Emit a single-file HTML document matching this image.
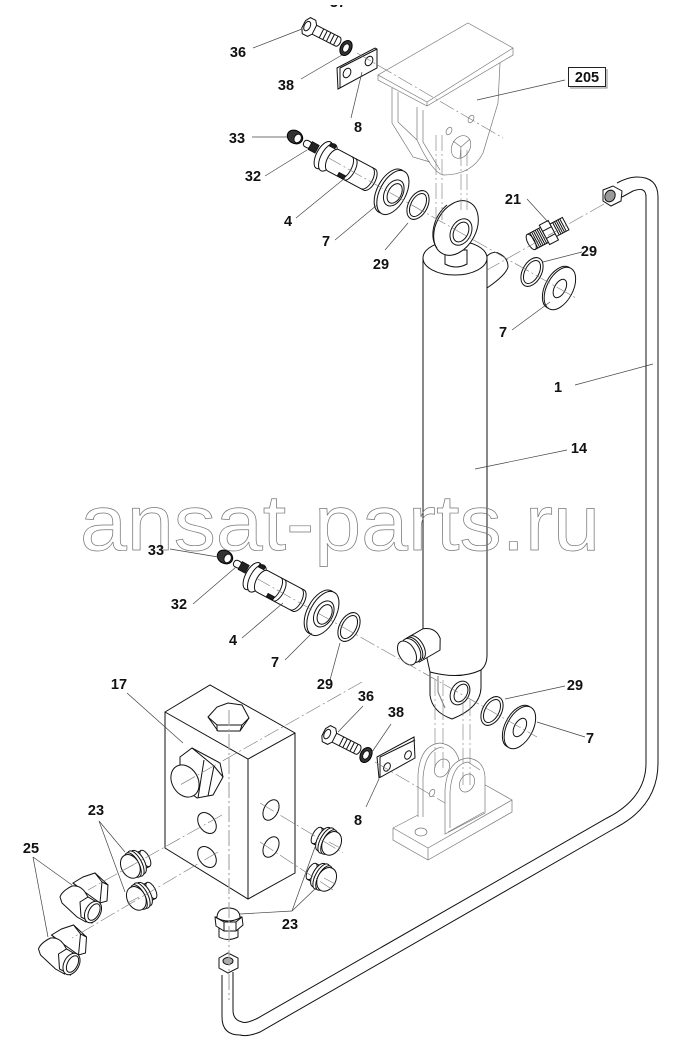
<!DOCTYPE html>
<html><head><meta charset="utf-8"><style>
html,body{margin:0;padding:0;background:#fff}
svg{display:block}
.p,.p *{fill:#fff;stroke:#111;stroke-width:1}
.d,.d *{fill:#333;stroke:#000;stroke-width:1}
.n,.p .n,.n *{fill:none}
.k,.p .k{fill:#222}
.g,.g *{fill:none;stroke:#777;stroke-width:.7}
.c line,.c path{stroke:#777;stroke-width:.6;stroke-dasharray:16 3 2 3;fill:none}
.l line{stroke:#444;stroke-width:.7}
.t text{font:bold 14.5px "Liberation Sans",sans-serif;fill:#111;text-anchor:middle}
.w{font:79px "Liberation Sans",sans-serif;fill:none;stroke:#777;stroke-width:.7}
</style></head><body>
<svg width="679" height="1051" viewBox="0 0 679 1051" xmlns="http://www.w3.org/2000/svg">
<defs>
<g id="pin"><g class="p">
<ellipse cx="-4" cy="0" rx="7" ry="15"/>
<ellipse cx="1" cy="0" rx="7" ry="15"/>
<path d="M7,-12 H48 A6,12 0 0 1 48,12 H7 A6,12 0 0 1 7,-12 Z"/>
<path d="M45,-12 A6,12 0 0 1 45,12" class="n"/>
<path d="M22,-12 A5,12 0 0 1 22,12" class="n"/>
<path d="M26,-12 A5,12 0 0 1 26,12" class="n"/>
<rect x="18" y="8" width="7" height="3.5" class="k"/>
<rect x="-3" y="-14" width="6" height="3" class="k"/>
</g></g>
<g id="coll"><g class="p">
<ellipse cx="-2" cy="0" rx="13" ry="24"/>
<ellipse cx="1" cy="0" rx="13" ry="24"/>
<ellipse cx="2" cy="0" rx="9" ry="14"/>
<ellipse cx="3" cy="0" rx="6.5" ry="10.5"/>
</g></g>
<g id="ring"><g class="p">
<ellipse rx="9.5" ry="15.5"/>
<ellipse rx="7" ry="12.5"/>
</g></g>
<g id="flat"><g class="p">
<ellipse cx="-1" rx="13" ry="23"/>
<ellipse cx="1" rx="13" ry="23"/>
<ellipse cx="1" rx="5.5" ry="10"/>
</g></g>
<g id="bolt"><g class="p">
<path d="M0,-5 L32,-5 A3,5 0 0 1 32,5 L0,5 Z"/>
<path d="M-6,-4 L-3,-9 L3,-9 L6,-5 V5 L3,9 L-3,9 L-6,4 Z"/>
<ellipse cx="-2" cy="0" rx="3" ry="5" class="n"/>
<path d="M14,-5 v10 M18,-5 v10 M22,-5 v10 M26,-5 v10 M30,-5 v10" class="n"/>
</g></g>
<g id="wsh"><ellipse class="d" rx="5.5" ry="8"/><ellipse class="p" rx="3" ry="4.5"/></g>
<g id="nut"><ellipse class="d" rx="8" ry="6.5"/><ellipse class="p" cx="3" rx="3.5" ry="4.5"/></g>
<g id="stud"><g class="p"><rect x="-8" y="-3.5" width="8" height="7" rx="3"/></g><rect x="-1" y="-4.5" width="8" height="9" fill="#222" stroke="#000" stroke-width=".6"/></g>
<g id="plug"><g class="p">
<path d="M-14,-9 H-6 V9 H-14 Z"/>
<ellipse cx="-14" rx="4" ry="9"/>
<ellipse cx="-6" rx="6" ry="13"/>
<ellipse cx="-3" rx="6" ry="14"/>
<ellipse cx="0" rx="6" ry="13.5"/>
<ellipse cx="3" rx="9" ry="12.5"/>
<line x1="0" y1="0" x2="13" y2="0" style="stroke:#777;stroke-width:.6"/>
</g></g>
<g id="elb"><g class="p">
<path d="M73,883 L83,877 L95,873 L108,885 L107,901 L100,903 L82,890 Z"/>
<path d="M73,883 L82,890 M95,873 L102,882 L108,885 M102,882 L100,903" class="n"/>
<path d="M60,897 Q62,891 72,886 Q80,885 85,892 L91,902 L86,922 L77,917 L62,903 Z"/>
<path d="M80,902 L88,897 L100,904 L92,923 L81,917 Z"/>
<ellipse cx="93" cy="912" rx="7.5" ry="11.5" transform="rotate(28 93 912)"/>
<ellipse cx="94" cy="912" rx="5" ry="9" transform="rotate(28 94 912)" class="n"/>
</g></g>
</defs>

<g class="t"><text x="338" y="7">37</text></g>
<rect x="320" y="0" width="40" height="5" fill="#fff"/>

<!-- top bracket -->
<g class="g">
<path d="M378,75 L468,23 L513,48 L427,102 Z" style="fill:#fff"/>
<path d="M378,75 V80 L427,106 L513,55 V48 M427,102 V106"/>
<path d="M500,63 L498,103 L483,153 Q472,175 443,175 Q432,172 417,140 V107"/>
<path d="M392,88 V123 L413,157 L430,162 M398,92 V122 L417,140 M423,110 V142 L440,170"/>
<ellipse cx="461" cy="147" rx="9" ry="12" transform="rotate(28 461 147)"/>
<path d="M461,147 L453,141 M461,147 L470,139 M461,147 L460,158"/>
<ellipse cx="449" cy="131" rx="2.6" ry="4" transform="rotate(28 449 131)"/>
<ellipse cx="471" cy="119" rx="2.6" ry="4" transform="rotate(28 471 119)"/>
</g>

<!-- bottom clevis -->
<g class="g">
<path d="M393,828 L428,848 L512,800 L480,782 M393,828 L418,815 M393,828 V840 L428,860 L512,812 V800 M428,848 V860"/>
<ellipse cx="421" cy="832" rx="6" ry="4"/>
<path d="M418,817 V775 Q420,745 440,743 Q455,745 459,760 V770"/>
<path d="M423,817 V778 Q425,750 442,747"/>
<ellipse cx="442" cy="768" rx="7" ry="9.5" transform="rotate(28 442 768)"/>
<path d="M445,830 V790 Q447,760 468,758 Q484,760 485,777 V813 L445,834 Z" style="fill:#fff"/>
<path d="M450,828 V792 Q452,764 468,762 L480,770"/>
<ellipse cx="467" cy="783" rx="7" ry="9.5" transform="rotate(28 467 783)"/>
<ellipse cx="432" cy="793" rx="2.4" ry="4" transform="rotate(28 432 793)"/>
<path d="M448,832 L484,812"/>
</g>

<!-- cylinder -->
<g class="p">
<path d="M481,666 L481,688 Q480,708 452,719 Q432,712 430,695 L430,666 Z"/>
<path d="M438,676 V692 L445,708" class="n" style="stroke:#777"/>
<ellipse cx="460" cy="693" rx="9" ry="12.5" transform="rotate(28 460 693)"/>
<ellipse cx="461" cy="693" rx="6" ry="9.5" transform="rotate(28 461 693)"/>
<path d="M487,258 H423 V640 L430,672 Q460,680 481,670 Q487,665 487,655 Z"/>
<ellipse cx="455" cy="258" rx="32" ry="17"/>
<path d="M445,250 V264 Q456,270 467,264 V250 Z"/>
<path d="M487,256 Q494,250 500,254 Q508,258 508,267 Q506,275 487,288 Z"/>
<ellipse cx="456" cy="228" rx="20" ry="29" transform="rotate(28 456 228)"/>
<path d="M447,205 A20,29 28 0 0 437,248" class="n"/>
<ellipse cx="461" cy="232" rx="10" ry="14" transform="rotate(28 461 232)"/>
<ellipse cx="461" cy="232" rx="7" ry="10.5" transform="rotate(28 461 232)"/>
<g transform="translate(407,653) rotate(-30)">
<path d="M6,-13 H26 Q38,-8 36,4 L30,14 H6 Z"/>
<ellipse cx="5" rx="8" ry="13"/>
<path d="M8,-13 A7,13 0 0 1 8,13 M11,-13 A7,13 0 0 1 11,13" class="n"/>
<ellipse rx="8" ry="13"/>
</g>
</g>

<!-- tube -->
<g style="fill:none;stroke:#111;stroke-width:1">
<path d="M617,183 Q628,177 637,177 Q658,177 658,197 V763 Q658,805 617,827 L260,1032 Q248,1037 240,1035 Q222,1035 222,1017 V975"/>
<path d="M622,197 L633,191 Q646,186 646,197 V763 Q646,798 607,818 L258,1018 Q246,1024 242,1022 Q233,1020 233,1010 V972"/>
</g>
<g class="p">
<path d="M603,190 L613,186 L622,191 L621,201 L611,206 L603,201 Z"/>
<ellipse cx="610" cy="196" rx="5" ry="6" transform="rotate(28 610 196)" style="fill:#999"/>
<path d="M219,958 L228,953 L238,958 L238,968 L228,973 L219,968 Z"/>
<ellipse cx="228" cy="961" rx="5" ry="3.5" style="fill:#aaa"/>
</g>

<!-- fitting 21 -->
<g transform="translate(548,233) rotate(-28)" class="p">
<rect x="-19" y="-8.5" width="15" height="17"/>
<ellipse cx="-19" rx="3.5" ry="8.5"/>
<path d="M-16,-8.5 v17 M-14,-8.5 v17 M-12,-8.5 v17 M-10,-8.5 v17 M-8,-8.5 v17 M-6,-8.5 v17" class="n"/>
<rect x="-4" y="-11" width="10" height="22"/>
<path d="M-4,-4 h10 M-4,4 h10" class="n"/>
<rect x="6" y="-7" width="14" height="14"/>
<path d="M9,-7 v14 M11,-7 v14 M13,-7 v14 M15,-7 v14 M17,-7 v14" class="n"/>
</g>

<!-- upper parts -->
<use href="#bolt" transform="translate(309,27) rotate(27)"/>
<use href="#wsh" transform="translate(346,48) rotate(28)"/>
<g class="p">
<path d="M337,68 L375,48 L377,49 V68 L338,89 Z"/>
<path d="M340,68 L377,49 M340,68 V88" class="n"/>
<ellipse cx="347" cy="73" rx="3.5" ry="5" transform="rotate(28 347 73)"/>
<ellipse cx="369" cy="61" rx="3.5" ry="5" transform="rotate(28 369 61)"/>
</g>
<use href="#nut" transform="translate(295,137) rotate(28)"/>
<use href="#stud" transform="translate(311,146) rotate(28)"/>
<use href="#pin" transform="translate(327,157) rotate(28)"/>
<use href="#coll" transform="translate(392,192) rotate(28)"/>
<use href="#ring" transform="translate(418,205) rotate(28)"/>
<use href="#ring" transform="translate(532,272) rotate(28)"/>
<use href="#flat" transform="translate(559,288) rotate(28)"/>

<!-- lower parts -->
<use href="#nut" transform="translate(225,557) rotate(28)"/>
<use href="#stud" transform="translate(241,566) rotate(28)"/>
<use href="#pin" transform="translate(256,578) rotate(28)"/>
<use href="#coll" transform="translate(322,613) rotate(28)"/>
<use href="#ring" transform="translate(349,627) rotate(28)"/>
<use href="#ring" transform="translate(492,711) rotate(28)"/>
<use href="#flat" transform="translate(519,727) rotate(28)"/>
<use href="#bolt" transform="translate(329,735) rotate(27)"/>
<use href="#wsh" transform="translate(366,755) rotate(28)"/>
<g class="p">
<path d="M377,757 L414,737 L415,758 L379,778 Z"/>
<path d="M380,757 L415,740 M380,757 V777" class="n"/>
<ellipse cx="387" cy="767" rx="3" ry="4.5" transform="rotate(28 387 767)"/>
<ellipse cx="408" cy="755" rx="3" ry="4.5" transform="rotate(28 408 755)"/>
</g>

<!-- valve block -->
<g class="p">
<path d="M165,712 L210,685 L295,733 V873 L248,899 L165,848 Z"/>
<path d="M165,712 L248,759 L295,733 M248,759 V899" class="n"/>
<path d="M208,717 L217,707 L228,703 L242,705 L249,718 L240,731 L218,731 Z"/>
<path d="M208,717 L217,725 H242 L249,718 M217,725 V731 M242,725 L240,731" class="n"/>
<ellipse cx="207" cy="823" rx="8" ry="11.5" transform="rotate(-35 207 823)"/>
<ellipse cx="207" cy="857" rx="8" ry="11.5" transform="rotate(-35 207 857)"/>
<ellipse cx="271" cy="810" rx="7" ry="11" transform="rotate(28 271 810)"/>
<ellipse cx="271" cy="847" rx="7" ry="11" transform="rotate(28 271 847)"/>
<path d="M180,757 L192,748 L220,763 L223,777 L213,795 L197,798 L180,785 Z"/>
<path d="M192,748 L214,766 L223,777 M214,766 L208,796 M204,760 L198,798" class="n"/>
<ellipse cx="185" cy="781" rx="13" ry="17" transform="rotate(-30 185 781)"/>
</g>

<!-- plugs -->
<use href="#plug" transform="translate(329,842) rotate(28)"/>
<use href="#plug" transform="translate(324,878) rotate(28)"/>
<use href="#plug" transform="translate(133,865) rotate(-28) scale(-1,1)"/>
<use href="#plug" transform="translate(139,897) rotate(-28) scale(-1,1)"/>
<g class="p">
<path d="M219,928 V937 Q228,942 238,937 V928 Z"/>
<path d="M215,917 L216,926 L224,931 L236,931 L243,925 L242,917 Z"/>
<path d="M224,922 V931 M236,922 V931 M215,917 L224,922 H236 L242,917" class="n"/>
<path d="M217,918 Q217,908 228,908 Q240,908 240,918 Q228,924 217,918 Z"/>
</g>
<use href="#elb"/>
<use href="#elb" transform="translate(-21.5,52)"/>

<!-- centre lines -->
<g class="c">
<line x1="357" y1="53" x2="503" y2="138"/>
<line x1="327" y1="157" x2="576" y2="298"/>
<line x1="604" y1="204" x2="487" y2="270"/>
<line x1="256" y1="578" x2="537" y2="737"/>
<line x1="362" y1="682" x2="180" y2="785"/>
<line x1="222" y1="815" x2="88" y2="890"/>
<line x1="218" y1="852" x2="72" y2="938"/>
<line x1="260" y1="803" x2="343" y2="853"/>
<line x1="260" y1="842" x2="333" y2="890"/>
<line x1="229" y1="710" x2="229" y2="1000" style="stroke:#aaa;stroke-width:1.2"/>
<line x1="436" y1="135" x2="436" y2="220"/>
<line x1="442" y1="135" x2="442" y2="220"/>
<line x1="461" y1="150" x2="461" y2="210"/>
<line x1="467" y1="150" x2="467" y2="210"/>
<line x1="435" y1="680" x2="435" y2="770"/>
<line x1="443" y1="680" x2="443" y2="770"/>
<line x1="463" y1="700" x2="463" y2="785"/>
<line x1="470" y1="700" x2="470" y2="785"/>
<line x1="375" y1="762" x2="445" y2="803"/>
</g>

<!-- leaders -->
<g class="l">
<line x1="253" y1="48" x2="302" y2="29"/>
<line x1="301" y1="79" x2="342" y2="55"/>
<line x1="351" y1="118" x2="362" y2="72"/>
<line x1="252" y1="137" x2="287" y2="137"/>
<line x1="265" y1="176" x2="307" y2="150"/>
<line x1="296" y1="218" x2="345" y2="178"/>
<line x1="335" y1="240" x2="377" y2="205"/>
<line x1="385" y1="250" x2="408" y2="223"/>
<line x1="527" y1="199" x2="548" y2="222"/>
<line x1="582" y1="252" x2="543" y2="262"/>
<line x1="512" y1="330" x2="550" y2="302"/>
<line x1="575" y1="385" x2="653" y2="364"/>
<line x1="475" y1="469" x2="567" y2="450"/>
<line x1="565" y1="80" x2="477" y2="100"/>
<line x1="170" y1="549" x2="218" y2="557"/>
<line x1="193" y1="604" x2="236" y2="567"/>
<line x1="242" y1="638" x2="283" y2="603"/>
<line x1="285" y1="660" x2="312" y2="633"/>
<line x1="330" y1="680" x2="340" y2="643"/>
<line x1="363" y1="706" x2="338" y2="732"/>
<line x1="391" y1="724" x2="372" y2="752"/>
<line x1="366" y1="807" x2="379" y2="779"/>
<line x1="565" y1="686" x2="505" y2="699"/>
<line x1="585" y1="737" x2="537" y2="722"/>
<line x1="127" y1="693" x2="183" y2="743"/>
<line x1="99" y1="821" x2="125" y2="852"/>
<line x1="99" y1="821" x2="125" y2="892"/>
<line x1="33" y1="857" x2="72" y2="885"/>
<line x1="33" y1="857" x2="48" y2="937"/>
<line x1="292" y1="911" x2="240" y2="914"/>
<line x1="292" y1="911" x2="315" y2="847"/>
<line x1="292" y1="911" x2="317" y2="887"/>
</g>

<text class="w" x="80" y="550" textLength="520" lengthAdjust="spacingAndGlyphs">ansat-parts.ru</text>

<!-- labels -->
<g class="t">
<text x="238" y="57">36</text><text x="286" y="90">38</text><text x="358" y="132">8</text>
<text x="237" y="143">33</text><text x="253" y="181">32</text><text x="288" y="226">4</text>
<text x="326" y="246">7</text><text x="381" y="269">29</text><text x="513" y="204">21</text>
<text x="589" y="256">29</text><text x="503" y="337">7</text><text x="558" y="392">1</text>
<text x="579" y="453">14</text><text x="587" y="82">205</text>
<text x="156" y="555">33</text><text x="179" y="609">32</text><text x="233" y="645">4</text>
<text x="275" y="667">7</text><text x="325" y="689">29</text><text x="119" y="689">17</text>
<text x="366" y="701">36</text><text x="396" y="717">38</text><text x="358" y="825">8</text>
<text x="575" y="690">29</text><text x="590" y="743">7</text><text x="96" y="815">23</text>
<text x="31" y="853">25</text><text x="290" y="929">23</text>
</g>
<rect x="568.5" y="67.5" width="37" height="19" fill="none" stroke="#222" stroke-width="1"/>
<path d="M570,88 H607 V69" fill="none" stroke="#888" stroke-width="1"/>
</svg>
</body></html>
